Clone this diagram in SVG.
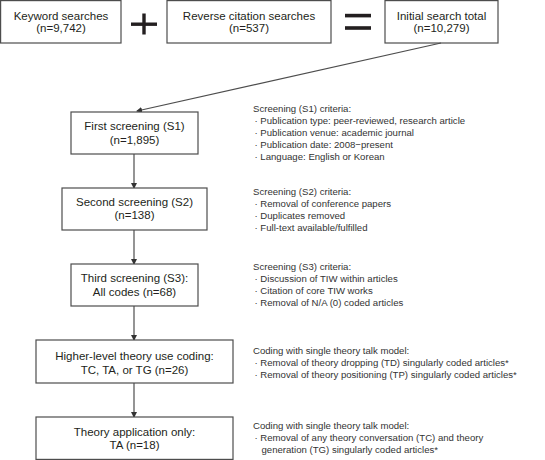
<svg xmlns="http://www.w3.org/2000/svg" width="545" height="460" viewBox="0 0 545 460">
<style>
.box{fill:#fff;stroke:#4d4d4d;stroke-width:1.2}
.bt{font-family:"Liberation Sans",Arial,sans-serif;font-size:11.5px;fill:#231f20;text-anchor:middle}
.ct{font-family:"Liberation Sans",Arial,sans-serif;font-size:9.6px;fill:#333}
.conn{stroke:#4d4d4d;stroke-width:1.2;fill:none;marker-end:url(#ah)}
.sym{fill:#231f20}
</style>
<defs>
<marker id="ah" markerWidth="6" markerHeight="6" refX="5" refY="3" orient="auto" markerUnits="userSpaceOnUse">
<path d="M0,0 L6,3 L0,6 Z" fill="#333"/>
</marker>
</defs>
<rect width="545" height="460" fill="#fff"/>
<g id="keyword"><rect class="box" x="0.6" y="0.6" width="120.4" height="42.4"/><text class="bt" x="61" y="19.5">Keyword searches</text><text class="bt" x="61" y="32">(n=9,742)</text></g>
<g id="plus"><rect class="sym" x="131" y="22.5" width="26" height="3.4"/><rect class="sym" x="142.3" y="13.5" width="3.4" height="21"/></g>
<g id="reverse"><rect class="box" x="167" y="0.6" width="164" height="42.4"/><text class="bt" x="249" y="19.5">Reverse citation searches</text><text class="bt" x="249" y="32">(n=537)</text></g>
<g id="equals"><rect class="sym" x="345" y="13.8" width="26" height="3.6"/><rect class="sym" x="345" y="26.2" width="26" height="3.6"/></g>
<g id="initial"><rect class="box" x="385" y="0.6" width="113" height="42.4"/><text class="bt" x="441.5" y="19.5">Initial search total</text><text class="bt" x="441.5" y="32">(n=10,279)</text></g>
<g id="connectors">
<line class="conn" x1="441" y1="43" x2="137" y2="111"/>
<line class="conn" x1="134" y1="154" x2="134" y2="188"/>
<line class="conn" x1="134" y1="230" x2="134" y2="264"/>
<line class="conn" x1="134" y1="306" x2="134" y2="340"/>
<line class="conn" x1="134" y1="383" x2="134" y2="417"/>
</g>
<g id="s1"><rect class="box" x="71" y="112" width="127" height="42"/><text class="bt" x="134.5" y="130">First screening (S1)</text><text class="bt" x="134.5" y="143.5">(n=1,895)</text></g>
<g id="s2"><rect class="box" x="62" y="188" width="145" height="42"/><text class="bt" x="134.5" y="206">Second screening (S2)</text><text class="bt" x="134.5" y="219">(n=138)</text></g>
<g id="s3"><rect class="box" x="71" y="264" width="127" height="42"/><text class="bt" x="134.5" y="281.5">Third screening (S3):</text><text class="bt" x="134.5" y="295.5">All codes (n=68)</text></g>
<g id="higher"><rect class="box" x="36" y="340" width="197" height="43"/><text class="bt" x="134.5" y="359.5">Higher-level theory use coding:</text><text class="bt" x="134.5" y="373.5">TC, TA, or TG (n=26)</text></g>
<g id="ta"><rect class="box" x="36" y="417" width="197" height="42.4"/><text class="bt" x="134.5" y="435.5">Theory application only:</text><text class="bt" x="134.5" y="448.5">TA (n=18)</text></g>
<g id="c1" class="ct">
<text x="253" y="111.5">Screening (S1) criteria:</text>
<text x="254.5" y="123.5">· Publication type: peer-reviewed, research article</text>
<text x="254.5" y="135.5">· Publication venue: academic journal</text>
<text x="254.5" y="147.5">· Publication date: 2008−present</text>
<text x="254.5" y="159.5">· Language: English or Korean</text>
</g>
<g id="c2" class="ct">
<text x="253" y="195">Screening (S2) criteria:</text>
<text x="254.5" y="207">· Removal of conference papers</text>
<text x="254.5" y="219">· Duplicates removed</text>
<text x="254.5" y="231">· Full-text available/fulfilled</text>
</g>
<g id="c3" class="ct">
<text x="253" y="270">Screening (S3) criteria:</text>
<text x="254.5" y="282">· Discussion of TIW within articles</text>
<text x="254.5" y="294">· Citation of core TIW works</text>
<text x="254.5" y="306">· Removal of N/A (0) coded articles</text>
</g>
<g id="c4" class="ct">
<text x="253" y="353.5">Coding with single theory talk model:</text>
<text x="254.5" y="365.5">· Removal of theory dropping (TD) singularly coded articles*</text>
<text x="254.5" y="377.5">· Removal of theory positioning (TP) singularly coded articles*</text>
</g>
<g id="c5" class="ct">
<text x="253" y="429">Coding with single theory talk model:</text>
<text x="254.5" y="441">· Removal of any theory conversation (TC) and theory</text>
<text x="261.5" y="453">generation (TG) singularly coded articles*</text>
</g>
</svg>
